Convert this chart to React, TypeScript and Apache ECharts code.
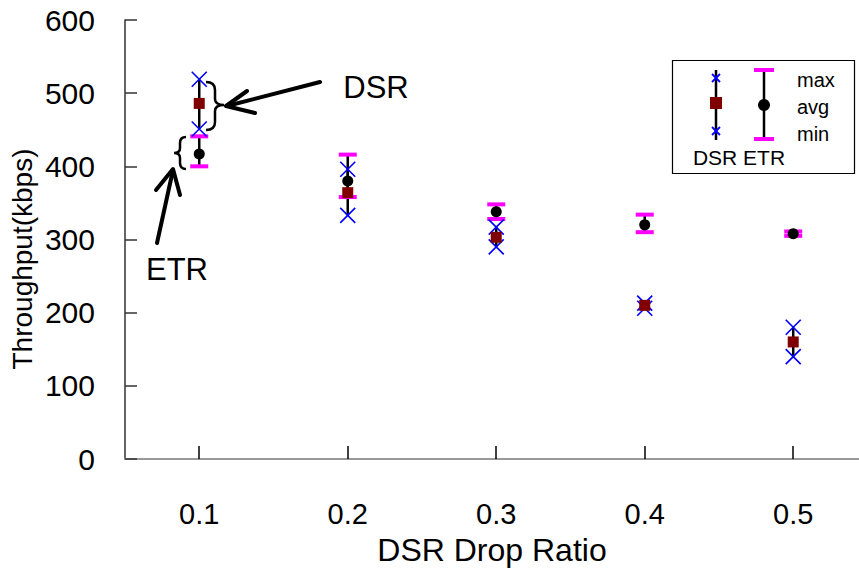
import React, { useEffect, useRef } from "react";
import * as echarts from "echarts";

const xValues = [0.1, 0.2, 0.3, 0.4, 0.5];
const dsrMax = [519, 396, 317, 213, 180];
const dsrAvg = [486, 364, 303, 210, 160];
const dsrMin = [451, 333, 290, 206, 140];
const etrMax = [441, 416, 348, 334, 311];
const etrAvg = [417, 380, 338, 320, 308];
const etrMin = [400, 358, 328, 310, 305];
const yTicks = [0, 100, 200, 300, 400, 500, 600];

const FONT = "'Liberation Sans', Arial, sans-serif";
const X_SYMBOL = "path://M0,0L10,10M10,0L0,10";

export default function App() {
  const ref = useRef<HTMLDivElement>(null);
  useEffect(() => {
    if (!ref.current) return;
    echarts.graphic.registerShape(
      "braceR",
      echarts.graphic.extendPath(
        "M206,82 Q215,82 215,90 L215,99 Q215,105 224,105 Q215,105 215,111 L215,122 Q215,130 206,130",
        {}
      )
    );
    echarts.graphic.registerShape(
      "braceL",
      echarts.graphic.extendPath(
        "M186,137 Q180,137 180,143 L180,148 Q180,153 174,153 Q180,153 180,158 L180,163 Q180,169 186,169",
        {}
      )
    );
    const chart = echarts.init(ref.current, null, { renderer: "svg" });
    const pairs = (vals: number[]) => xValues.map((x, i) => [x, vals[i]]);
    const rangeData = (mins: number[], maxs: number[]) =>
      xValues.map((x, i) => [x, mins[i], maxs[i]]);
    const renderRange = (params: any, api: any) => {
      const p1 = api.coord([api.value(0), api.value(1)]);
      const p2 = api.coord([api.value(0), api.value(2)]);
      return {
        type: "line",
        shape: { x1: p1[0], y1: p1[1], x2: p2[0], y2: p2[1] },
        style: { stroke: "#000", lineWidth: 2.5 },
      };
    };
    const xMark = (data: number[]) => ({
      type: "scatter",
      data: pairs(data),
      symbol: X_SYMBOL,
      symbolSize: 15,
      itemStyle: { color: "rgba(0,0,0,0)", borderColor: "#0000ff", borderWidth: 1.6, opacity: 1 },
      z: 4,
    });
    const cap = (data: number[]) => ({
      type: "scatter",
      data: pairs(data),
      symbol: "rect",
      symbolSize: [18, 4],
      itemStyle: { color: "#ff00ff", opacity: 1 },
      z: 3,
    });
    const lx = 716;
    const ex = 764;
    chart.setOption({
      animation: false,
      backgroundColor: "#fff",
      textStyle: { fontFamily: FONT },
      grid: { left: 125, right: 0, top: 20, bottom: 114, containLabel: false },
      xAxis: {
        type: "value",
        min: 0.05,
        max: 0.5443,
        name: "DSR Drop Ratio",
        nameLocation: "middle",
        nameGap: 75,
        nameTextStyle: { fontSize: 32, color: "#000", fontFamily: FONT },
        axisLine: { lineStyle: { color: "#999", width: 2 } },
        axisTick: {
          inside: true,
          length: 13,
          customValues: xValues,
          lineStyle: { color: "#000", width: 1.5 },
        },
        axisLabel: {
          fontSize: 29,
          color: "#000",
          margin: 40,
          fontFamily: FONT,
          customValues: xValues,
          formatter: (v: number) => v.toFixed(1),
        },
        splitLine: { show: false },
      },
      yAxis: {
        type: "value",
        min: yTicks[0],
        max: yTicks[yTicks.length - 1],
        interval: 100,
        axisLine: { show: true, lineStyle: { color: "#333", width: 1.5 } },
        axisTick: { show: true, inside: true, length: 12, lineStyle: { color: "#333", width: 1.5 } },
        axisLabel: { fontSize: 30, color: "#000", margin: 30, fontFamily: FONT },
        splitLine: { show: false },
      },
      series: [
        {
          type: "custom",
          renderItem: renderRange,
          data: rangeData(etrMin, etrMax),
          encode: { x: 0, y: [1, 2] },
          z: 2,
        },
        {
          type: "custom",
          renderItem: renderRange,
          data: rangeData(dsrMin, dsrMax),
          encode: { x: 0, y: [1, 2] },
          z: 2,
        },
        cap(etrMax),
        cap(etrMin),
        {
          type: "scatter",
          data: pairs(etrAvg),
          symbol: "circle",
          symbolSize: 11,
          itemStyle: { color: "#000", opacity: 1 },
          z: 4,
        },
        xMark(dsrMax),
        xMark(dsrMin),
        {
          type: "scatter",
          data: pairs(dsrAvg),
          symbol: "rect",
          symbolSize: 11,
          itemStyle: { color: "#800000", opacity: 1 },
          z: 5,
        },
      ],
      graphic: [
        {
          type: "text",
          x: 22,
          y: 259,
          rotation: Math.PI / 2,
          style: { text: "Throughput(kbps)", font: `28px ${FONT}`, fill: "#000", align: "center", verticalAlign: "middle" },
        },
        { type: "braceR", style: { stroke: "#000", fill: "none", lineWidth: 2.5 }, z: 10 },
        { type: "braceL", style: { stroke: "#000", fill: "none", lineWidth: 2.5 }, z: 10 },
        { type: "line", shape: { x1: 320, y1: 82, x2: 227, y2: 106 }, style: { stroke: "#000", lineWidth: 4, lineCap: "round" }, z: 10 },
        { type: "polyline", shape: { points: [[247, 91], [226, 106], [255, 113]] }, style: { stroke: "#000", fill: "none", lineWidth: 4, lineCap: "round", lineJoin: "round" }, z: 10 },
        { type: "line", shape: { x1: 157, y1: 243, x2: 173, y2: 170 }, style: { stroke: "#000", lineWidth: 4, lineCap: "round" }, z: 10 },
        { type: "polyline", shape: { points: [[156, 190], [173, 169], [180, 195]] }, style: { stroke: "#000", fill: "none", lineWidth: 4, lineCap: "round", lineJoin: "round" }, z: 10 },
        { type: "text", x: 376, y: 87, style: { text: "DSR", font: `31px ${FONT}`, fill: "#000", align: "center", verticalAlign: "middle" }, z: 10 },
        { type: "text", x: 177, y: 269, style: { text: "ETR", font: `31px ${FONT}`, fill: "#000", align: "center", verticalAlign: "middle" }, z: 10 },
        // legend box
        { type: "rect", shape: { x: 672.5, y: 60.5, width: 182, height: 113 }, style: { stroke: "#000", fill: "#fff", lineWidth: 1.2 }, z: 10 },
        { type: "line", shape: { x1: lx, y1: 70, x2: lx, y2: 140 }, style: { stroke: "#000", lineWidth: 2.5 }, z: 11 },
        { type: "line", shape: { x1: lx - 4, y1: 74, x2: lx + 4, y2: 82 }, style: { stroke: "#0000ff", lineWidth: 1.8 }, z: 12 },
        { type: "line", shape: { x1: lx + 4, y1: 74, x2: lx - 4, y2: 82 }, style: { stroke: "#0000ff", lineWidth: 1.8 }, z: 12 },
        { type: "line", shape: { x1: lx - 4, y1: 127, x2: lx + 4, y2: 135 }, style: { stroke: "#0000ff", lineWidth: 1.8 }, z: 12 },
        { type: "line", shape: { x1: lx + 4, y1: 127, x2: lx - 4, y2: 135 }, style: { stroke: "#0000ff", lineWidth: 1.8 }, z: 12 },
        { type: "rect", shape: { x: lx - 6, y: 97, width: 12, height: 12 }, style: { fill: "#800000" }, z: 12 },
        { type: "line", shape: { x1: ex, y1: 70, x2: ex, y2: 139 }, style: { stroke: "#000", lineWidth: 2.5 }, z: 11 },
        { type: "rect", shape: { x: ex - 10, y: 68, width: 20, height: 4 }, style: { fill: "#ff00ff" }, z: 12 },
        { type: "rect", shape: { x: ex - 10, y: 137, width: 20, height: 4 }, style: { fill: "#ff00ff" }, z: 12 },
        { type: "circle", shape: { cx: ex, cy: 105, r: 6 }, style: { fill: "#000" }, z: 12 },
        { type: "text", x: 797, y: 80, style: { text: "max", font: `20px ${FONT}`, fill: "#000", align: "left", verticalAlign: "middle" }, z: 12 },
        { type: "text", x: 797, y: 107, style: { text: "avg", font: `20px ${FONT}`, fill: "#000", align: "left", verticalAlign: "middle" }, z: 12 },
        { type: "text", x: 797, y: 134, style: { text: "min", font: `20px ${FONT}`, fill: "#000", align: "left", verticalAlign: "middle" }, z: 12 },
        { type: "text", x: 739, y: 157, style: { text: "DSR ETR", font: `21px ${FONT}`, fill: "#000", align: "center", verticalAlign: "middle" }, z: 12 },
      ],
    });
    return () => chart.dispose();
  }, []);
  return (
    <div
      ref={ref}
      style={{ position: "fixed", left: 0, top: 0, width: 859, height: 573, background: "#fff" }}
    />
  );
}
